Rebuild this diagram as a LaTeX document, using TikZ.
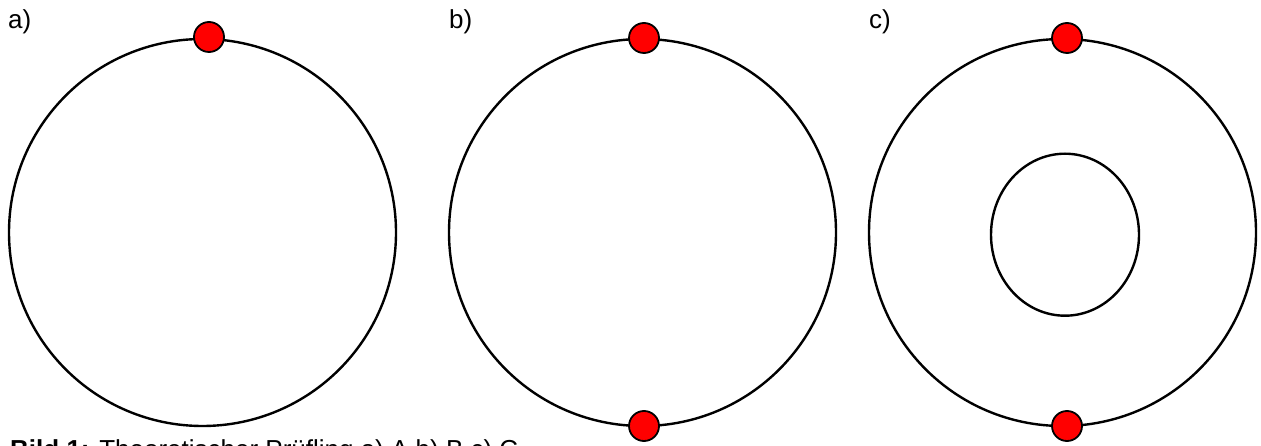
\documentclass[tikz,border=0pt]{standalone}
\usepackage{fontspec}
\setmainfont{Liberation Sans}
\usepackage{tikz}
\usetikzlibrary{positioning,shapes.geometric}
\definecolor{contactred}{RGB}{255,0,0}

\begin{document}
\begin{tikzpicture}[
  x=1pt, y=-1pt,
  every node/.style={font=\fontsize{26}{30}\selectfont},
  ring/.style={draw=black, line width=2.4pt, circle, inner sep=0pt,
    minimum size=387pt},
  hole/.style={draw=black, line width=2.4pt, ellipse, inner sep=0pt,
    minimum width=148pt, minimum height=162pt},
  contact/.style={draw=black, line width=1.8pt, fill=contactred, circle,
    inner sep=0pt, minimum size=30pt},
  tag/.style={anchor=base west, inner sep=0pt},
]
\useasboundingbox (0,0) rectangle (1261,446);

% panel a)
\node[tag]      at (8, 28.5)    (labelA) {a)};
\node[ring]     at (202.5, 232.5) (ringA) {};
\node[contact]  at (209, 37)    (topA) {};

% panel b)
\node[tag]      at (449, 28.5)  (labelB) {b)};
\node[ring]     at (642.5, 232.5) (ringB) {};
\node[contact]  at (644, 38)    (topB) {};
\node[contact]  at (644, 426)   (botB) {};

% panel c)
\node[tag]      at (869, 28.5)  (labelC) {c)};
\node[ring]     at (1062.5, 232.5) (ringC) {};
\node[hole]     at (1065, 234.7) (holeC) {};
\node[contact]  at (1067, 38)   (topC) {};
\node[contact]  at (1067, 426)  (botC) {};

% caption
\node[tag]      at (10, 458)    (caption) {\textbf{Bild 1:} Theoretischer Prüfling a) A b) B c) C};
\end{tikzpicture}
\end{document}
